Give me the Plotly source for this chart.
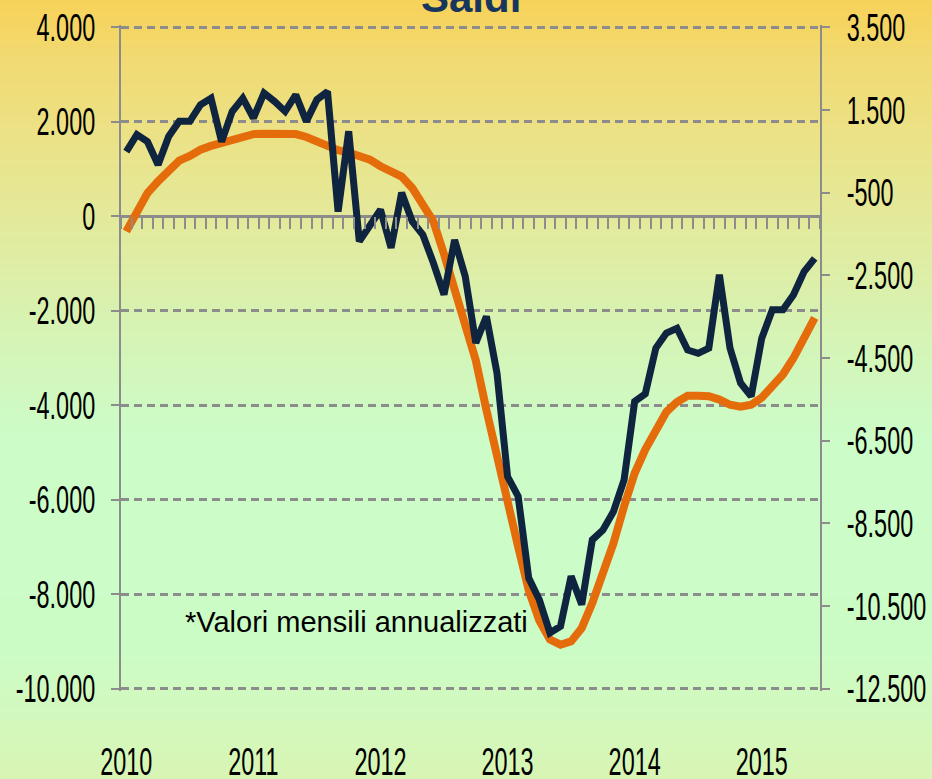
import plotly.graph_objects as go

# ---------------- data ----------------
months = [f"{y}-{m:02d}" for y in range(2010, 2016) for m in range(1, 13)][:66]

saldi_mensili = [1370, 1730, 1580, 1090, 1690, 2010, 2010, 2360, 2500, 1580,
                 2220, 2500, 2080, 2610, 2430, 2220, 2570, 2010, 2470, 2640,
                 100, 1800, -530, -220, 140, -670, 500, -110, -390, -990,
                 -1660, -500, -1270, -2680, -2120, -3320, -5510, -5930, -7660, -8120,
                 -8820, -8680, -7620, -8220, -6850, -6640, -6250, -5580, -3920, -3760,
                 -2790, -2470, -2370, -2830, -2900, -2790, -1240, -2790, -3530, -3810,
                 -2580, -1980, -1980, -1660, -1170, -890]

saldi_trend = [-320, 100, 490, 740, 980, 1180, 1280, 1410, 1490, 1550,
               1620, 1680, 1740, 1750, 1750, 1750, 1740, 1680, 1580, 1470,
               1400, 1350, 1270, 1200, 1060, 970, 840, 600, 240, -110,
               -800, -1520, -2250, -3050, -4100, -5120, -6050, -7000, -7920, -8560,
               -8960, -9070, -9000, -8720, -8190, -7590, -6920, -6140, -5440, -4940,
               -4520, -4140, -3930, -3800, -3800, -3810, -3880, -3990, -4030, -3990,
               -3840, -3610, -3350, -3000, -2570, -2150]

year_ticks = ["2010-01", "2011-01", "2012-01", "2013-01", "2014-01", "2015-01"]
year_labels = ["2010", "2011", "2012", "2013", "2014", "2015"]
left_ticks = [4000, 2000, 0, -2000, -4000, -6000, -8000, -10000]
right_ticks = [3500, 1500, -500, -2500, -4500, -6500, -8500, -10500, -12500]


def fmt(v):
    return f"{v:,}".replace(",", ".")


NAVY = "#0F243E"
ORANGE = "#E46C0A"
GRID = "#8C8C8C"
TICKFONT = dict(family="Liberation Sans, Arial, sans-serif", size=39, color="#000000")

W, H = 932, 779
ML, MR, MT, MB = 121, 112, 25, 88
PH = H - MT - MB
PW = W - ML - MR

# small padding so that the grid lines at the range ends are drawn
pad_left = 50
pad_right = pad_left * 16000 / 14000

fig = go.Figure()

fig.add_trace(go.Scatter(x=months, y=saldi_trend, mode="lines", xaxis="x", yaxis="y",
                         line=dict(color=ORANGE, width=8), showlegend=False,
                         hoverinfo="skip"))
fig.add_trace(go.Scatter(x=months, y=saldi_mensili, mode="lines", xaxis="x2", yaxis="y",
                         line=dict(color=NAVY, width=7), showlegend=False,
                         hoverinfo="skip"))
fig.add_trace(go.Scatter(x=[], y=[], xaxis="x", yaxis="y2", showlegend=False))

# gradient background as stripes
stops = [(0, (247, 210, 88)), (60, (241, 218, 114)), (150, (234, 227, 138)),
         (250, (224, 236, 162)), (350, (212, 245, 184)), (440, (204, 252, 200)),
         (650, (204, 252, 198)), (779, (216, 245, 180))]


def col_at(p):
    for (p0, c0), (p1, c1) in zip(stops[:-1], stops[1:]):
        if p0 <= p <= p1:
            t = (p - p0) / (p1 - p0)
            return "rgb(%d,%d,%d)" % tuple(round(a + (b - a) * t) for a, b in zip(c0, c1))
    return "rgb(%d,%d,%d)" % stops[-1][1]


shapes = []
step = 4
for p in range(0, H, step):
    shapes.append(dict(type="rect", xref="paper", yref="paper", layer="below",
                       x0=-ML / PW - 0.01, x1=(W - ML) / PW + 0.01,
                       y0=(H - MB - (p + step + 1)) / PH, y1=(H - MB - p) / PH,
                       fillcolor=col_at(p + step / 2), line=dict(width=0)))

fig.update_layout(
    template="none",
    width=W, height=H,
    margin=dict(l=ML, r=MR, t=MT, b=MB, autoexpand=False),
    paper_bgcolor="rgb(212,245,184)",
    plot_bgcolor="rgba(0,0,0,0)",
    shapes=shapes,
    showlegend=False,
    xaxis=dict(type="category", categoryorder="array", categoryarray=months,
               range=[-0.5, 65.5], tickmode="array", tickvals=year_ticks, ticktext=year_labels,
               ticks="", showgrid=False, zeroline=False, showline=False, automargin=False,
               tickfont=TICKFONT, ticklabelstandoff=44),
    xaxis2=dict(type="category", categoryorder="array", categoryarray=months,
                range=[-0.5, 65.5], overlaying="x", anchor="free",
                position=(10000 + pad_left) / (14000 + 2 * pad_left), side="bottom",
                automargin=False,
                tickson="boundaries", tickmode="linear", tick0=0, dtick=1,
                ticks="outside", ticklen=12, tickwidth=2, tickcolor=GRID,
                showticklabels=False, showgrid=False, zeroline=False, showline=False),
    yaxis=dict(range=[-10000 - pad_left, 4000 + pad_left], tickmode="array",
               tickvals=left_ticks, ticktext=[fmt(v) for v in left_ticks], automargin=False,
               showgrid=True, gridcolor=GRID, gridwidth=3, griddash="8px,5px",
               zeroline=True, zerolinecolor=GRID, zerolinewidth=3,
               showline=True, linecolor=GRID, linewidth=2,
               ticks="outside", ticklen=8, tickwidth=2, tickcolor=GRID,
               tickfont=TICKFONT, ticklabelstandoff=8),
    yaxis2=dict(range=[-12500 - pad_right, 3500 + pad_right], overlaying="y", side="right",
                anchor="x", tickmode="array", tickvals=right_ticks, automargin=False,
                ticktext=[fmt(v) for v in right_ticks],
                showgrid=False, zeroline=False,
                showline=True, linecolor=GRID, linewidth=2,
                ticks="outside", ticklen=8, tickwidth=2, tickcolor=GRID,
                tickfont=TICKFONT, ticklabelstandoff=9),
    annotations=[
        dict(text="<b>Saldi</b>", xref="paper", yref="paper",
             x=0.5, y=(H - MB + 2) / PH, xanchor="center", yanchor="middle",
             showarrow=False,
             font=dict(family="Liberation Sans, Arial, sans-serif", size=42, color="#17365D")),
        dict(text="*Valori mensili annualizzati", xref="paper", yref="paper",
             x=(183 - ML) / PW, y=(H - MB - 622) / PH, xanchor="left",
             yanchor="middle", showarrow=False,
             font=dict(family="Liberation Sans, Arial, sans-serif", size=29,
                       color="#000000")),
    ],
)

# page without body margin; condense tick label glyphs (the original uses a narrow face)
squeeze_js = """
document.documentElement.style.margin = '0';
document.body.style.margin = '0';
document.body.style.padding = '0';
document.body.style.overflow = 'hidden';
var gd = document.getElementById('{plot_id}');
function squeezeTicks() {
  gd.querySelectorAll('.xtick text, .ytick text, .y2tick text').forEach(function (t) {
    t.removeAttribute('textLength');
    var w = t.getComputedTextLength();
    t.setAttribute('textLength', (w * 0.6).toFixed(1));
    t.setAttribute('lengthAdjust', 'spacingAndGlyphs');
  });
}
squeezeTicks();
gd.on('plotly_afterplot', squeezeTicks);
"""

fig.write_html("out.html", post_script=squeeze_js,
               config={"displayModeBar": False, "staticPlot": True})
